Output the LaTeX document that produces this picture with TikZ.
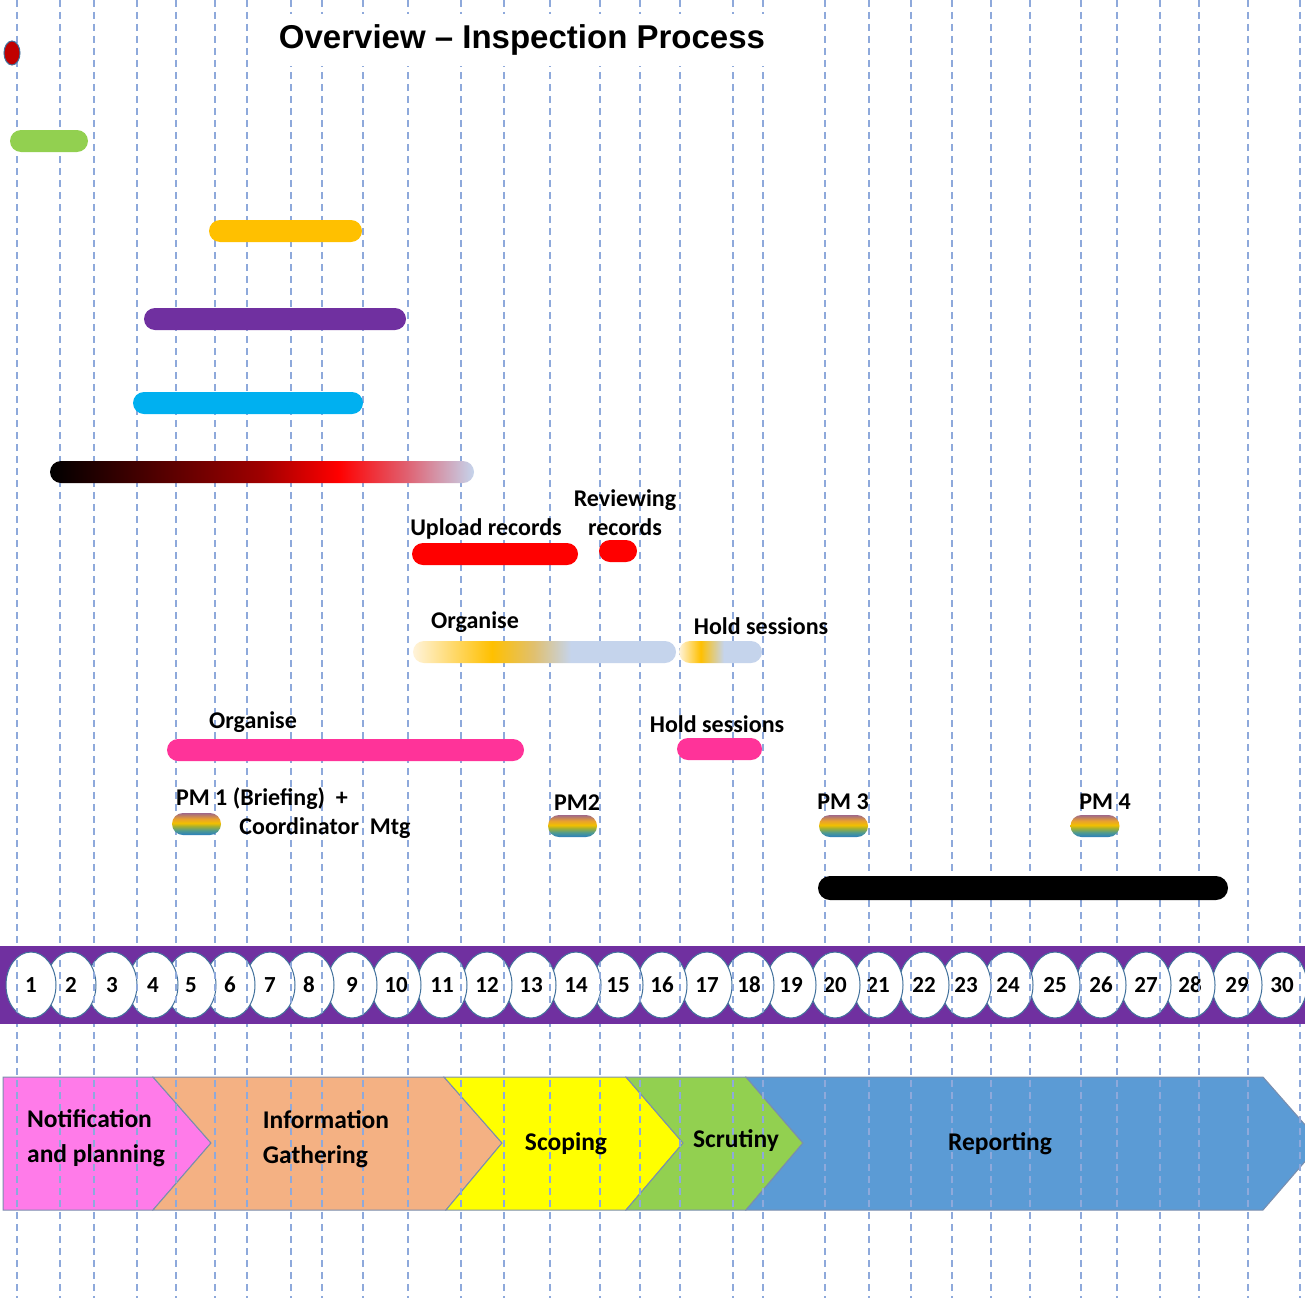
\documentclass[tikz,border=0pt]{standalone}
\usepackage{fontspec}
\setmainfont{Carlito}
\newfontfamily\titlefont{Liberation Sans}
\usepackage{tikz}
\usetikzlibrary{shapes}
\definecolor{grid}{HTML}{8EA9DB}
\definecolor{ring}{HTML}{41719C}
\definecolor{edge}{HTML}{7A8EAE}
\definecolor{band}{HTML}{7030A0}
\definecolor{nplan}{HTML}{FF7BE9}
\definecolor{igath}{HTML}{F4B183}
\definecolor{scope}{HTML}{FFFF00}
\definecolor{scrut}{HTML}{92D050}
\definecolor{rep}{HTML}{5B9BD5}
\definecolor{dred}{HTML}{C00000}
\definecolor{amber}{HTML}{FFC000}
\definecolor{violet}{HTML}{7030A0}
\definecolor{sky}{HTML}{00B0F0}
\definecolor{hot}{HTML}{FF3399}
\definecolor{pale}{HTML}{C5D4EC}
\definecolor{deepred}{HTML}{A00000}
\definecolor{rose}{HTML}{E06070}
\definecolor{cream}{HTML}{FFF3DA}
\definecolor{khaki}{HTML}{E0C070}
\definecolor{pmblue}{HTML}{2A7FC0}
\definecolor{pmteal}{HTML}{4E9A90}
\definecolor{pmolive}{HTML}{A4B030}
\definecolor{pmgold}{HTML}{F2C000}
\definecolor{pmorange}{HTML}{E8A030}
\definecolor{pmmauve}{HTML}{A06888}
\pgfdeclarehorizontalshading{blackred}{100bp}{color(0bp)=(black); color(25bp)=(black); color(50bp)=(deepred); color(59bp)=(red); color(67bp)=(rose); color(75bp)=(pale); color(100bp)=(pale)}
\pgfdeclarehorizontalshading{orgfade}{100bp}{color(0bp)=(cream); color(25bp)=(cream); color(40bp)=(amber); color(48bp)=(khaki); color(55bp)=(pale); color(100bp)=(pale)}
\pgfdeclarehorizontalshading{holdfade}{100bp}{color(0bp)=(cream); color(25bp)=(cream); color(38bp)=(amber); color(52bp)=(pale); color(100bp)=(pale)}
\pgfdeclareverticalshading{pmfade}{100bp}{color(0bp)=(pmblue); color(25bp)=(pmblue); color(35bp)=(pmteal); color(45bp)=(pmolive); color(52bp)=(pmgold); color(62bp)=(pmorange); color(75bp)=(pmmauve); color(100bp)=(pmmauve)}
\newcommand{\gridx}{17,60,94,137,176,215,247,291,322,363,408,461,504,550,600,640,680,733,763,825,869,911,952,991,1030,1081,1117,1160,1199,1248,1300}
\newcommand{\days}{30/1282,29/1237,28/1190,27/1146,26/1101,25/1055,24/1008,23/966,22/924,21/878,20/835,19/791,18/749,17/707,16/662,15/618,14/576,13/531,12/487,11/442,10/396,9/352,8/309,7/270,6/230,5/191,4/153,3/112,2/71,1/31}

\begin{document}
\begin{tikzpicture}[x=1pt,y=-1pt,
  gline/.style={grid,dash pattern=on 7pt off 5pt,line width=1.8pt},
  stage/.style={draw=edge,line width=1pt},
  bar/.style={minimum height=22pt,rounded corners=11pt,inner sep=0pt},
  pm/.style={bar,minimum width=49pt,shading=pmfade},
  lbl/.style={font=\fontsize{24}{29}\selectfont\bfseries,inner sep=0pt},
  slbl/.style={font=\fontsize{25.5}{35}\selectfont\bfseries,inner sep=0pt,align=left},
  num/.style={ellipse,draw=ring,line width=1pt,fill=white,minimum width=50pt,minimum height=66pt,inner sep=0pt,font=\fontsize{23}{24}\selectfont\bfseries}]
\useasboundingbox (0,0) rectangle (1305,1298);
\clip (0,0) rectangle (1305,1298);
\fill[white] (0,0) rectangle (1305,1298);

\draw[stage,fill=nplan] (3,1077) -- (153,1077) -- (211,1143) -- (153,1210) -- (3,1210) -- cycle;
\draw[stage,fill=igath] (153,1077) -- (444,1077) -- (502,1143) -- (446,1210) -- (153,1210) -- (211,1143) -- cycle;
\draw[stage,fill=scope] (444,1077) -- (626,1077) -- (683,1143) -- (626,1210) -- (446,1210) -- (502,1143) -- cycle;
\draw[stage,fill=scrut] (626,1077) -- (746,1077) -- (803,1143) -- (746,1210) -- (626,1210) -- (683,1143) -- cycle;
\draw[stage,fill=rep] (746,1077) -- (1263,1077) -- (1321,1143) -- (1263,1210) -- (746,1210) -- (803,1143) -- cycle;

\foreach \x in \gridx
  \draw[gline] (\x,0) -- (\x,1298);

\fill[band] (0,946) rectangle (1305,1024);
\foreach \n/\x in \days
  \node[num] (c\n) at (\x,985) {\n};
\begin{scope}
\clip foreach \n/\x in \days {(\x,985) ellipse (25 and 33)};
\foreach \x in \gridx
  \draw[gline] (\x,0) -- (\x,1298);
\end{scope}

\node[fill=white,inner xsep=10pt,minimum height=52pt,font=\titlefont\fontsize{33}{36}\selectfont\bfseries] (title) at (522,40) {Overview – Inspection Process};

\node[ellipse,draw=ring,line width=1pt,fill=dred,minimum width=16pt,minimum height=24pt,inner sep=0pt] (dot) at (12,53) {};
\node[bar,fill=scrut,minimum width=78pt] (notify) at (49,141) {};
\node[bar,fill=amber,minimum width=153pt] (amberbar) at (285.5,231) {};
\node[bar,fill=violet,minimum width=262pt] (violetbar) at (275,319) {};
\node[bar,fill=sky,minimum width=230pt] (skybar) at (248,403) {};
\node[bar,shading=blackred,minimum width=424pt] (gather) at (262,472) {};
\node[bar,fill=red,minimum width=166pt] (upload) at (495,554) {};
\node[bar,fill=red,minimum width=38pt] (review) at (618,551) {};
\node[bar,shading=orgfade,minimum width=263pt] (org1) at (544.5,652) {};
\node[bar,shading=holdfade,minimum width=83pt] (hold1) at (720.5,652) {};
\node[bar,fill=hot,minimum width=357pt] (org2) at (345.5,750) {};
\node[bar,fill=hot,minimum width=85pt] (hold2) at (719.5,749) {};
\node[pm] (pm1) at (196.5,824) {};
\node[pm] (pm2) at (572.5,826) {};
\node[pm] (pm3) at (843.5,826) {};
\node[pm] (pm4) at (1095,826) {};
\node[bar,fill=black,minimum height=24pt,rounded corners=12pt,minimum width=410pt] (report) at (1023,888) {};

\node[lbl] (uploadtxt) at (486,529) {Upload records};
\node[lbl,align=center] (reviewtxt) at (625,513) {Reviewing\\records};
\node[lbl] (org1txt) at (475,622) {Organise};
\node[lbl] (hold1txt) at (761,626) {Hold sessions};
\node[lbl] (org2txt) at (253,722) {Organise};
\node[lbl] (hold2txt) at (717,724) {Hold sessions};
\node[lbl] (pm1txt) at (262,799) {PM 1 (Briefing)\ \ +};
\node[lbl] (coordtxt) at (325,828) {Coordinator\ \ Mtg};
\node[lbl] (pm2txt) at (577,803) {PM2};
\node[lbl] (pm3txt) at (843,802) {PM 3};
\node[lbl] (pm4txt) at (1105,802) {PM 4};

\node[slbl] (nplantxt) at (96,1138) {Notification\\and planning};
\node[slbl] (igathtxt) at (326,1139) {Information\\Gathering};
\node[slbl] (scopetxt) at (566,1144) {Scoping};
\node[slbl] (scruttxt) at (736,1141) {Scrutiny};
\node[slbl] (reptxt) at (1000,1144) {Reporting};
\end{tikzpicture}
\end{document}
